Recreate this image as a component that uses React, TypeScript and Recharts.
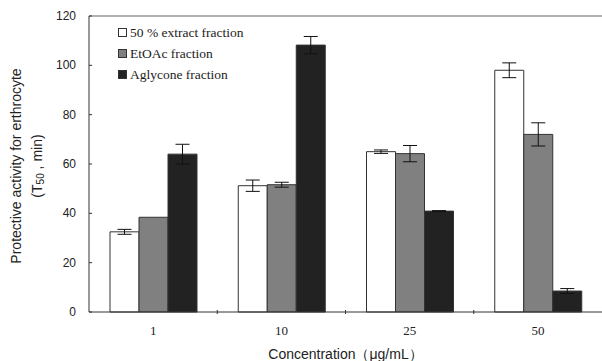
import { BarChart, Bar, XAxis, YAxis, ErrorBar, ReferenceLine } from 'recharts';

const concentrations = ['1', '10', '25', '50'];
const extract = [32.5, 51.2, 65, 98];
const extractErr = [1, 2.3, 0.7, 3];
const etoac = [38.4, 51.6, 64.2, 72];
const etoacErr = [0, 1, 3.3, 4.7];
const aglycone = [64, 108.2, 40.9, 8.5];
const aglyconeErr = [4, 3.5, 0.2, 1];
const yTicks = [0, 20, 40, 60, 80, 100, 120];

const series = [
  { key: 'extract', name: '50 % extract fraction', fill: '#ffffff' },
  { key: 'etoac', name: 'EtOAc fraction', fill: '#808080' },
  { key: 'aglycone', name: 'Aglycone fraction', fill: '#222222' },
];

const data = concentrations.map((c, i) => ({
  conc: c,
  extract: extract[i],
  extractErr: extractErr[i],
  etoac: etoac[i],
  etoacErr: etoacErr[i],
  aglycone: aglycone[i],
  aglyconeErr: aglyconeErr[i],
}));

const serif = "'Liberation Serif', 'Times New Roman', serif";
const sans = "'Liberation Sans', Arial, sans-serif";

function XTick(props: any) {
  const { x, y, payload, index } = props;
  const half = payload.offset ?? 0;
  return (
    <g>
      {index > 0 && <line x1={x - half} x2={x - half} y1={y} y2={y - 4} stroke="#333" />}
      <text x={x} y={y + 21} textAnchor="middle" fontFamily={serif} fontSize={13} fill="#222">
        {payload.value}
      </text>
    </g>
  );
}

function YTick(props: any) {
  const { x, y, payload } = props;
  return (
    <g>
      <line x1={x} x2={x + 3} y1={y} y2={y} stroke="#333" />
      <text x={x - 13} y={y} dy={4} textAnchor="end" fontFamily="'Liberation Sans Narrow', 'Liberation Sans', Arial" fontSize={12} fill="#222">
        {payload.value}
      </text>
    </g>
  );
}

function YLabel(props: any) {
  const { viewBox } = props;
  const cy = viewBox.y + viewBox.height / 2 + 2;
  return (
    <g>
      <text x={16} y={cy} transform={`rotate(-90, 16, ${cy})`} textAnchor="middle" dominantBaseline="central" fontFamily={sans} fontSize={14} fill="#222">
        Protective activity for erthrocyte
      </text>
      <text x={37} y={cy} transform={`rotate(-90, 37, ${cy})`} textAnchor="middle" dominantBaseline="central" fontFamily={sans} fontSize={14} fill="#222">
        (T<tspan fontSize={10} dy={3}>50</tspan><tspan dy={-3}> , min)</tspan>
      </text>
    </g>
  );
}

function LegendBox() {
  return (
    <div style={{ position: 'absolute', left: 118, top: 22, fontFamily: serif, fontSize: 13.5, color: '#222', lineHeight: '21px' }}>
      {series.map((s) => (
        <div key={s.key} style={{ display: 'flex', alignItems: 'center', height: 21 }}>
          <span
            style={{
              display: 'inline-block',
              width: 7,
              height: 7,
              background: s.fill,
              border: '1px solid #333',
              marginRight: 3,
            }}
          />
          {s.name}
        </div>
      ))}
    </div>
  );
}

export default function App() {
  return (
    <div style={{ position: 'absolute', left: 0, top: 0, width: 602, height: 361, background: '#fff' }}>
      <BarChart width={602} height={361} data={data} margin={{ top: 16, right: 0, left: 0, bottom: 0 }} barGap={0} barSize={29}>
        <XAxis
          dataKey="conc"
          height={49}
          tickLine={false}
          tickSize={0}
          tick={<XTick />}
          stroke="#333"
          label={{ value: 'Concentration（μg/mL）', position: 'insideBottom', offset: 2, fontFamily: sans, fontSize: 14, fill: '#222' }}
        />
        <YAxis
          width={89}
          domain={[0, 120]}
          ticks={yTicks}
          tickLine={false}
          tickSize={0}
          tickMargin={0}
          tick={<YTick />}
          stroke="#333"
          label={{ content: <YLabel /> }}
        />
        <ReferenceLine y={120} stroke="#999" strokeWidth={1.5} />
        {series.map((s) => (
          <Bar key={s.key} dataKey={s.key} name={s.name} fill={s.fill} stroke="#333" strokeWidth={1} isAnimationActive={false}>
            <ErrorBar dataKey={`${s.key}Err`} width={7} stroke="#111" strokeWidth={1} />
          </Bar>
        ))}
      </BarChart>
      <LegendBox />
    </div>
  );
}
